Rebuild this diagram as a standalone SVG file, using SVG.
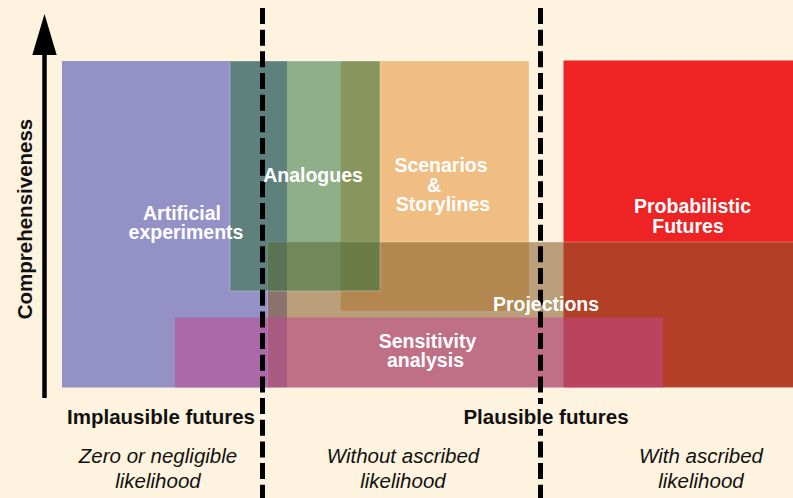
<svg xmlns="http://www.w3.org/2000/svg" width="793" height="498" viewBox="0 0 793 498">
<style>
.lbl{font-family:"Liberation Sans",Arial,Helvetica,sans-serif;font-weight:bold;font-size:19.5px;fill:#fff;text-anchor:middle}
.axis{font-family:"Liberation Sans",Arial,Helvetica,sans-serif;font-weight:bold;font-size:20.5px;fill:#111;text-anchor:middle}
.note{font-family:"Liberation Sans",Arial,Helvetica,sans-serif;font-style:italic;font-size:20.5px;fill:#111;text-anchor:middle}
.edge{stroke:#fff;stroke-opacity:.3;stroke-width:1}
.divider{stroke:#000;stroke-width:5;stroke-dasharray:16 5.67;fill:none}
</style>
<rect x="0" y="0" width="793" height="498" fill="#FEF3DE"/>

<g id="node-artificial-experiments">
<rect x="62" y="61" width="225" height="326.5" fill="#9491C6"/>
</g>
<g id="node-scenarios">
<rect x="340.5" y="61" width="188.5" height="250" fill="#F0BD82" class="edge"/>
</g>
<g id="node-probabilistic">
<rect x="563.5" y="60.5" width="232" height="327" fill="#EE2324"/>
</g>
<g id="node-projections">
<rect x="267.5" y="242" width="528" height="145.5" fill="#845A28" fill-opacity=".55" class="edge"/>
</g>
<g id="node-analogues">
<rect x="230" y="61" width="150" height="230" fill="#30753F" fill-opacity=".54" class="edge"/>
</g>
<g id="node-sensitivity">
<rect x="175" y="317.5" width="488" height="70" fill="#C34692" fill-opacity=".53"/>
</g>

<g id="connectors">
<line class="divider" x1="262.5" y1="8" x2="262.5" y2="498"/>
<line class="divider" x1="540.5" y1="8" x2="540.5" y2="498"/>
<rect x="520" y="404" width="42" height="25" fill="#FEF3DE"/>
<line x1="44.5" y1="50" x2="44.5" y2="398" stroke="#000" stroke-width="4.5"/>
<polygon points="44.5,14 32.3,55 56.7,55" fill="#000"/>
</g>

<g id="label-artificial-experiments">
<text class="lbl" x="182" y="220">Artificial</text>
<text class="lbl" x="186" y="239">experiments</text>
</g>
<g id="label-analogues"><text class="lbl" x="313" y="182">Analogues</text></g>
<g id="label-scenarios">
<text class="lbl" x="441" y="172">Scenarios</text>
<text class="lbl" x="434" y="192">&amp;</text>
<text class="lbl" x="443" y="211">Storylines</text>
</g>
<g id="label-probabilistic">
<text class="lbl" x="692.5" y="213">Probabilistic</text>
<text class="lbl" x="688" y="233">Futures</text>
</g>
<g id="label-projections"><text class="lbl" x="546" y="311">Projections</text></g>
<g id="label-sensitivity">
<text class="lbl" x="427.5" y="348">Sensitivity</text>
<text class="lbl" x="425.5" y="367">analysis</text>
</g>

<g id="axis-labels">
<text class="axis" transform="translate(31.5,219) rotate(-90)">Comprehensiveness</text>
<text class="axis" x="161" y="424">Implausible futures</text>
<text class="axis" x="546" y="424">Plausible futures</text>
<text class="note" x="158" y="463">Zero or negligible</text>
<text class="note" x="158" y="488">likelihood</text>
<text class="note" x="403" y="463">Without ascribed</text>
<text class="note" x="403" y="488">likelihood</text>
<text class="note" x="701" y="463">With ascribed</text>
<text class="note" x="701" y="488">likelihood</text>
</g>
</svg>
